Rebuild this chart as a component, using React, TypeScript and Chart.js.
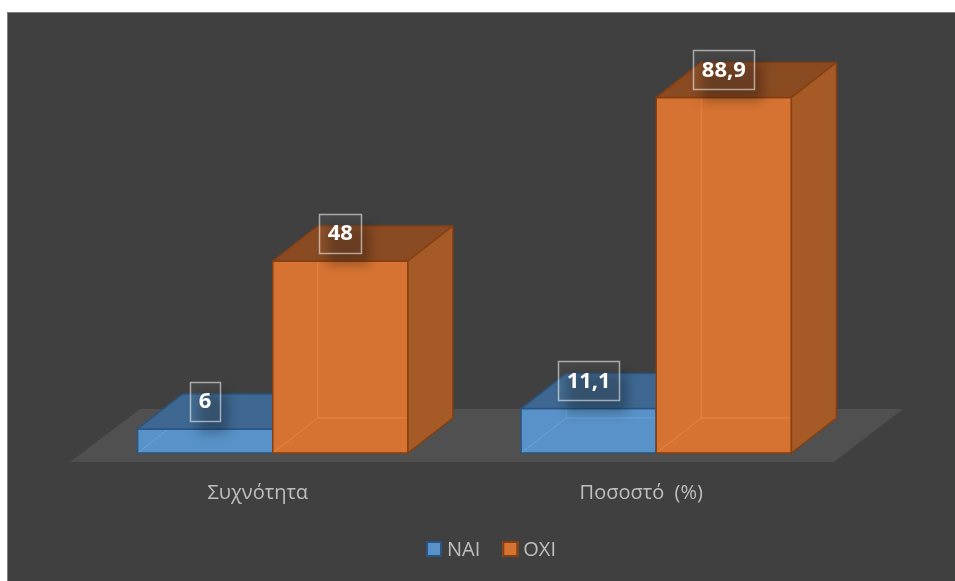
import React, { useEffect, useRef } from 'react';
import { Chart, registerables } from 'chart.js';

Chart.register(...registerables);

// ---- data ----
const categories = ['Συχνότητα', 'Ποσοστό  (%)'];
const seriesNames = ['NAI', 'OXI'];
const naiValues = [6, 11.1];
const oxiValues = [48, 88.9];
const yMin = 0;
const yMax = 100;

// ---- styles ----
const palette = [
  { front: '#5892C8', top: '#3E6891', side: '#46739F', edge: '#2A5482', ghost: 'rgba(150,195,240,0.35)' },
  { front: '#D67332', top: '#8A4B23', side: '#A65A26', edge: '#843F12', ghost: 'rgba(250,155,85,0.45)' },
];
const DX = 45;
const DY = -35;
const TEXT_COLOR = '#bfbfbf';
const FONT = "'Open Sans', 'DejaVu Sans', sans-serif";
const LEGEND_CX = 491;
const LEGEND_CY = 549;

function fmt(v: number) {
  return String(v).replace('.', ',');
}

const bgPlugin = {
  id: 'bg3d',
  beforeDraw(chart: any) {
    const { ctx, width, height } = chart;
    ctx.save();
    ctx.fillStyle = '#ffffff';
    ctx.fillRect(0, 0, width, height);
    ctx.fillStyle = '#404040';
    ctx.fillRect(7, 12, width, height);
    ctx.strokeStyle = '#808080';
    ctx.lineWidth = 1;
    ctx.strokeRect(7.5, 12.5, width + 10, height + 10);
    ctx.restore();
  },
  beforeDatasetsDraw(chart: any) {
    const { ctx, chartArea } = chart;
    const base = chart.scales.y.getPixelForValue(0);
    const fy = base + 9;
    const by = base - 44;
    ctx.save();
    ctx.fillStyle = '#505050';
    ctx.beginPath();
    ctx.moveTo(chartArea.left - 11, fy);
    ctx.lineTo(chartArea.right - 14, fy);
    ctx.lineTo(chartArea.right + 55, by);
    ctx.lineTo(chartArea.left + 59, by);
    ctx.closePath();
    ctx.fill();
    ctx.restore();
  },
  afterDatasetsDraw(chart: any) {
    const { ctx } = chart;
    const n = categories.length;
    ctx.save();
    for (let i = 0; i < n; i++) {
      chart.data.datasets.forEach((ds: any, d: number) => {
        const meta = chart.getDatasetMeta(d);
        const el = meta.data[i];
        if (!el) return;
        const { x, y, base, width } = el.getProps(['x', 'y', 'base', 'width'], true);
        const c = palette[d];
        const x0 = x - width / 2;
        const x1 = x + width / 2;
        const yt = y;
        const yb = base;
        ctx.lineWidth = 1.5;
        ctx.lineJoin = 'round';
        // front
        ctx.fillStyle = c.front;
        ctx.strokeStyle = c.edge;
        ctx.fillRect(x0, yt, x1 - x0, yb - yt);
        // hidden back edges, seen through
        ctx.strokeStyle = c.ghost;
        ctx.lineWidth = 1;
        ctx.beginPath();
        ctx.moveTo(x0 + DX, yt + DY);
        ctx.lineTo(x0 + DX, yb + DY);
        ctx.lineTo(x1 + DX, yb + DY);
        ctx.moveTo(x0 + DX, yb + DY);
        ctx.lineTo(x0, yb);
        ctx.stroke();
        ctx.lineWidth = 1.5;
        ctx.strokeStyle = c.edge;
        ctx.strokeRect(x0, yt, x1 - x0, yb - yt);
        // top face
        ctx.fillStyle = c.top;
        ctx.beginPath();
        ctx.moveTo(x0, yt);
        ctx.lineTo(x0 + DX, yt + DY);
        ctx.lineTo(x1 + DX, yt + DY);
        ctx.lineTo(x1, yt);
        ctx.closePath();
        ctx.fill();
        ctx.stroke();
        // side face
        ctx.fillStyle = c.side;
        ctx.beginPath();
        ctx.moveTo(x1, yt);
        ctx.lineTo(x1 + DX, yt + DY);
        ctx.lineTo(x1 + DX, yb + DY);
        ctx.lineTo(x1, yb);
        ctx.closePath();
        ctx.fill();
        ctx.stroke();
      });
    }
    ctx.restore();
  },
  afterDraw(chart: any) {
    const { ctx } = chart;
    ctx.save();
    // value labels
    ctx.font = `bold 22px ${FONT}`;
    ctx.textAlign = 'center';
    ctx.textBaseline = 'middle';
    chart.data.datasets.forEach((ds: any, d: number) => {
      const meta = chart.getDatasetMeta(d);
      meta.data.forEach((el: any, i: number) => {
        const { x, y } = el.getProps(['x', 'y'], true);
        const txt = fmt(ds.data[i]);
        const tw = ctx.measureText(txt).width;
        const bw = tw + 17;
        const bh = 39;
        const cx = x;
        const cy = y - 28;
        // soft shadow
        ctx.save();
        ctx.filter = 'blur(6px)';
        ctx.fillStyle = 'rgba(0,0,0,0.28)';
        ctx.fillRect(cx - bw / 2 + 8, cy - bh / 2 + 12, bw, bh);
        ctx.restore();
        ctx.fillStyle = 'rgba(255,255,255,0.04)';
        ctx.fillRect(cx - bw / 2, cy - bh / 2, bw, bh);
        ctx.strokeStyle = 'rgba(255,255,255,0.55)';
        ctx.lineWidth = 1.5;
        ctx.strokeRect(Math.round(cx - bw / 2) + 0.5, Math.round(cy - bh / 2) + 0.5, Math.round(bw), bh);
        ctx.fillStyle = '#ffffff';
        ctx.fillText(txt, cx, cy + 1);
      });
    });
    // legend
    ctx.font = `20px ${FONT}`;
    ctx.textAlign = 'left';
    ctx.textBaseline = 'middle';
    const box = 16;
    const gapBox = 5;
    const gapItem = 22;
    const widths = chart.data.datasets.map((ds: any) => box + gapBox + ctx.measureText(ds.label).width);
    const total = widths.reduce((a: number, b: number) => a + b, 0) + gapItem * (widths.length - 1);
    let lx = LEGEND_CX - total / 2;
    chart.data.datasets.forEach((ds: any, d: number) => {
      const c = palette[d];
      ctx.fillStyle = c.front;
      ctx.fillRect(lx, LEGEND_CY - box / 2, box, box);
      ctx.strokeStyle = c.edge;
      ctx.lineWidth = 2;
      ctx.strokeRect(lx + 1, LEGEND_CY - box / 2 + 1, box - 2, box - 2);
      ctx.fillStyle = TEXT_COLOR;
      ctx.fillText(ds.label, lx + box + gapBox, LEGEND_CY + 1);
      lx += widths[d] + gapItem;
    });
    ctx.restore();
  },
};

export default function App() {
  const ref = useRef<HTMLCanvasElement | null>(null);
  useEffect(() => {
    if (!ref.current) return;
    const chart = new Chart(ref.current, {
      type: 'bar',
      data: {
        labels: categories,
        datasets: [
          { label: seriesNames[0], data: naiValues, backgroundColor: 'rgba(0,0,0,0)', borderWidth: 0 },
          { label: seriesNames[1], data: oxiValues, backgroundColor: 'rgba(0,0,0,0)', borderWidth: 0 },
        ],
      },
      options: {
        animation: false,
        responsive: true,
        maintainAspectRatio: false,
        devicePixelRatio: 1,
        datasets: { bar: { categoryPercentage: 0.705, barPercentage: 1 } },
        layout: { padding: { left: 81, right: 107, top: 53, bottom: 0 } },
        plugins: { legend: { display: false }, tooltip: { enabled: false } },
        scales: {
          x: {
            grid: { display: false, drawTicks: false },
            border: { display: false },
            ticks: {
              color: TEXT_COLOR,
              font: { family: FONT, size: 20 },
              padding: 28,
              labelOffset: -15,
              maxRotation: 0,
              autoSkip: false,
            },
            afterFit: (s: any) => {
              s.height = 128;
            },
          },
          y: { display: false, min: yMin, max: yMax },
        },
      },
      plugins: [bgPlugin],
    });
    return () => chart.destroy();
  }, []);
  return (
    <div style={{ position: 'absolute', left: 0, top: 0, width: 955, height: 581 }}>
      <canvas ref={ref} />
    </div>
  );
}
